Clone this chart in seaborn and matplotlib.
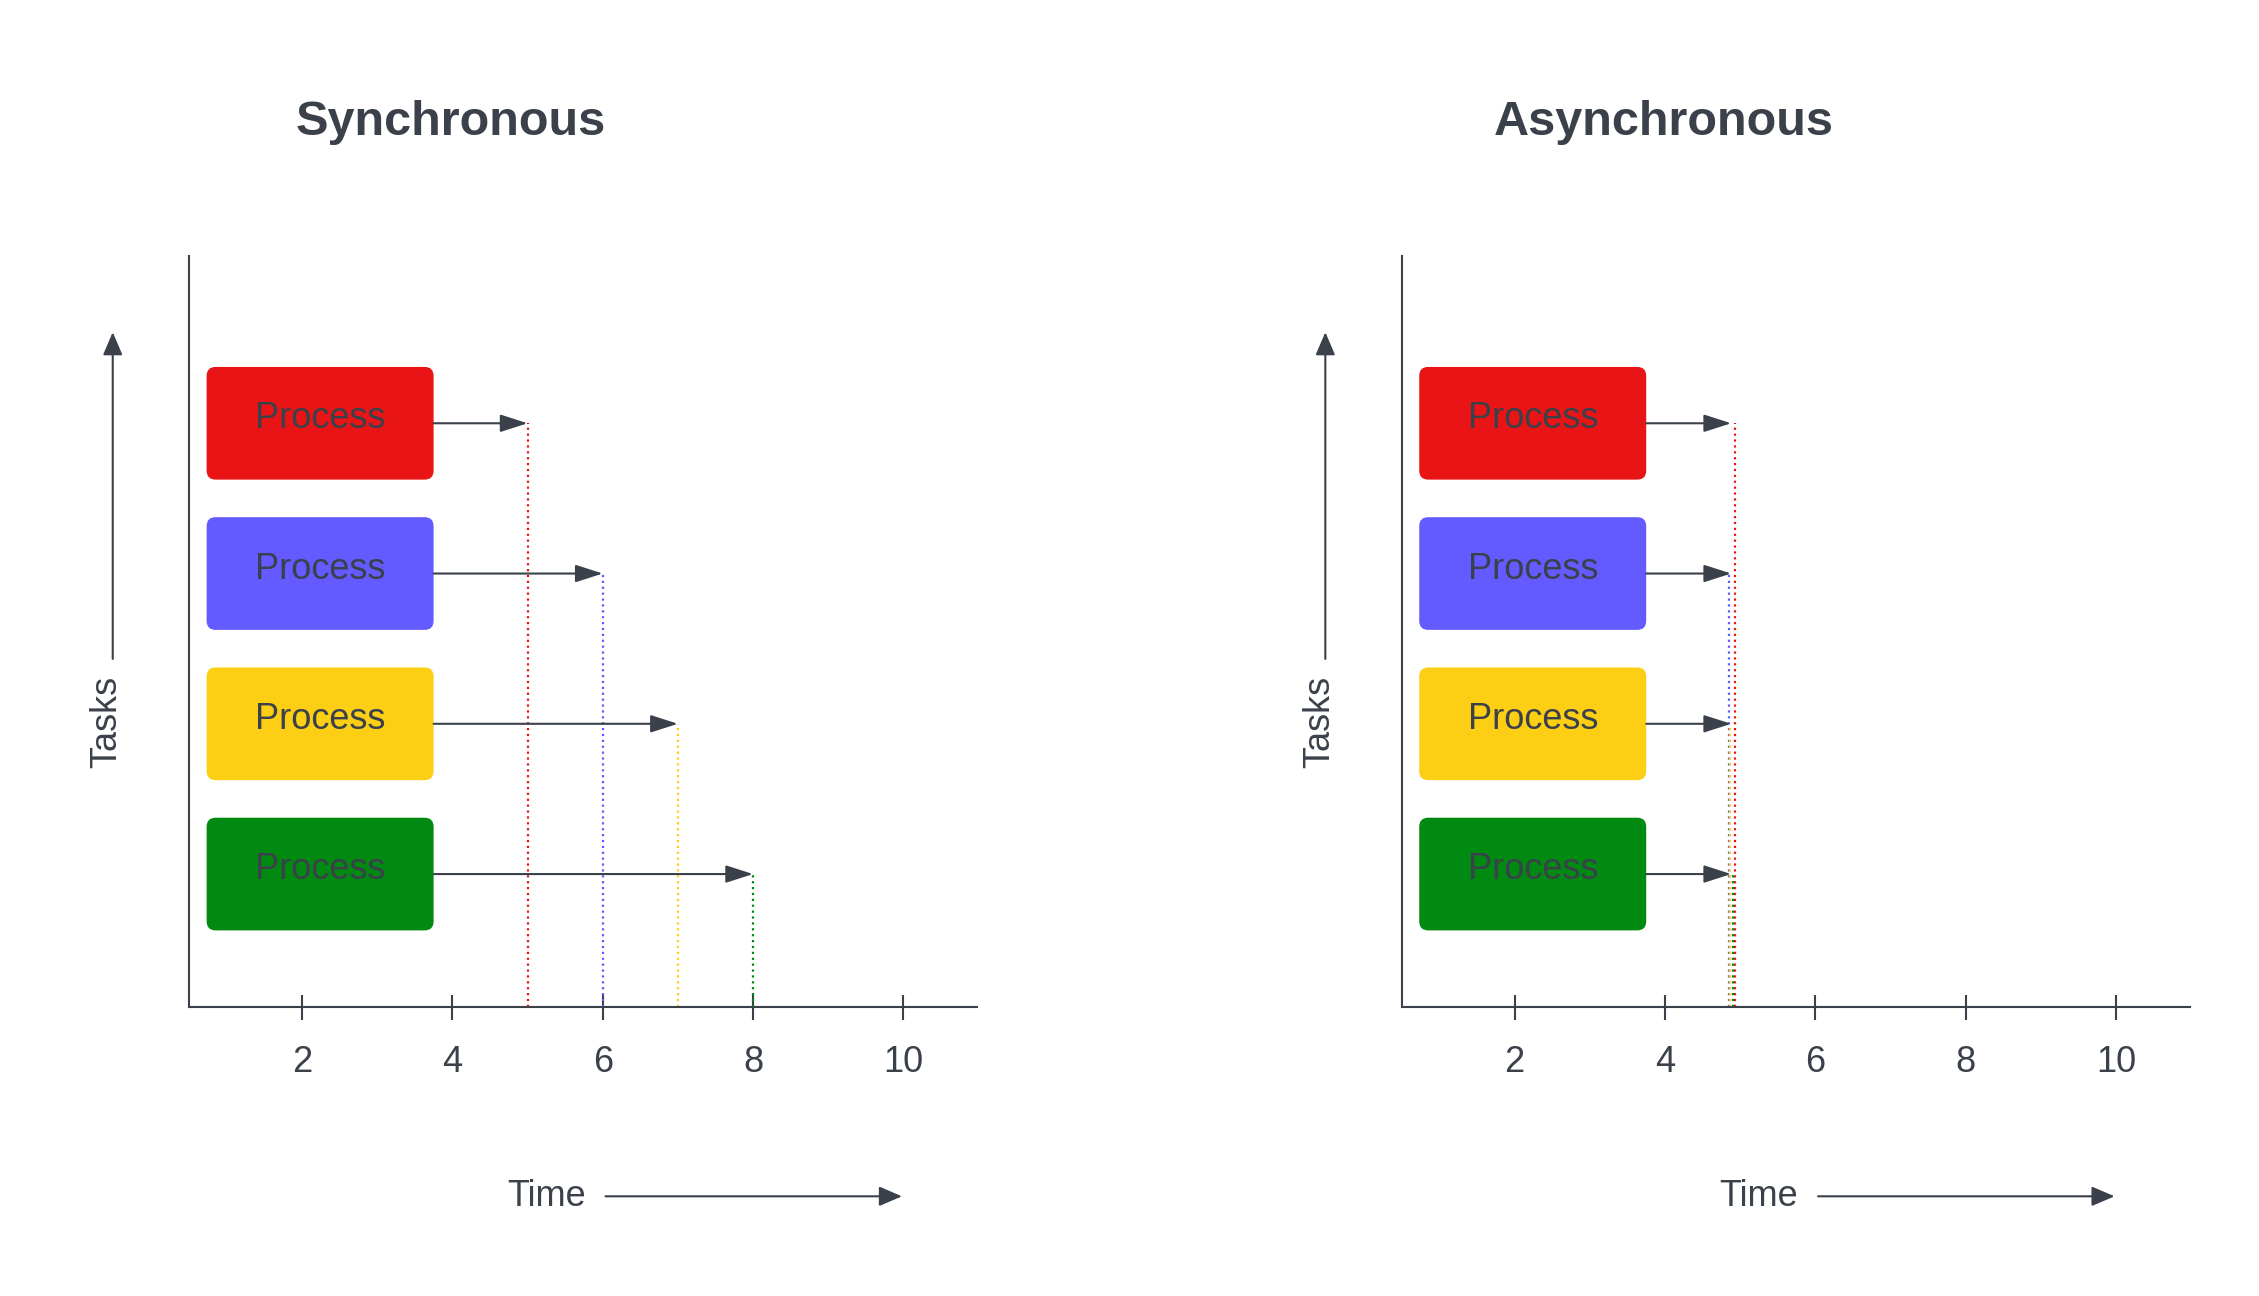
import matplotlib
matplotlib.use("Agg")
import matplotlib.pyplot as plt
import seaborn as sns
from matplotlib.patches import FancyBboxPatch

sns.set_theme(style="white")
plt.rcParams['font.family'] = ['Liberation Sans', 'DejaVu Sans']

titles = ["Synchronous", "Asynchronous"]
row_y = [3.885, 2.885, 1.885, 0.885]
colors = ["#e81416", "#635bff", "#fccf14", "#008a11"]
box_label = "Process"
box_x0, box_x1 = 0.73, 3.75
sync_end = [5.0, 6.0, 7.0, 8.0]
async_end = [4.88, 4.88, 4.88, 4.88]
async_drop = [4.93, 4.85, 4.87, 4.90]
sync_drop = [5.0, 6.0, 7.0, 8.0]
xticks = [2, 4, 6, 8, 10]
INK = "#3a414a"

fig = plt.figure(figsize=(22.59, 12.96), dpi=100)
W, H = 1563, 897
panels = [(131, sync_end, sync_drop), (970, async_end, async_drop)]
for i, (x0px, ends, drops) in enumerate(panels):
    ax = fig.add_axes([x0px / W, (H - 697) / H, 545 / W, 520 / H])
    ax.set_xlim(0.5, 10.98)
    ax.set_ylim(0, 5)
    for s in ["top", "right"]:
        ax.spines[s].set_visible(False)
    for s in ["left", "bottom"]:
        ax.spines[s].set_color(INK)
        ax.spines[s].set_linewidth(1.5)
    ax.set_xticks(xticks)
    ax.set_yticks([])
    ax.tick_params(axis="x", direction="inout", length=18, width=1.5, color=INK,
                   labelsize=26, labelcolor=INK, pad=18, bottom=True)
    for y, c, e, d in zip(row_y, colors, ends, drops):
        ax.add_patch(FancyBboxPatch((box_x0, y - 0.375), box_x1 - box_x0, 0.75,
                                    boxstyle="round,pad=0,rounding_size=0.12",
                                    mutation_aspect=0.5, fc=c, ec="none"))
        ax.text((box_x0 + box_x1) / 2, y + 0.03, box_label, ha="center", va="center",
                fontsize=26, color=INK)
        ax.annotate("", xy=(e, y), xytext=(box_x1, y),
                    arrowprops=dict(arrowstyle="-|>,head_length=1.4,head_width=0.45",
                                    color=INK, lw=1.5, shrinkA=0, shrinkB=0))
        ax.plot([d, d], [0, y], ls=":", color=c, lw=1.6)
    cx = x0px - 131
    fig.text((312 + cx) / W, 1 - 85 / H, titles[i], ha="center", va="center",
             fontsize=35, fontweight="bold", color=INK)
    fig.text((74 + cx) / W, 1 - 500 / H, "Tasks", rotation=90, ha="center", va="center",
             fontsize=26, color=INK)
    fig.add_artist(matplotlib.patches.FancyArrowPatch(
        ((78 + cx) / W, 1 - 458 / H), ((78 + cx) / W, 1 - 228 / H), transform=fig.transFigure,
        arrowstyle="-|>,head_length=14,head_width=6", color=INK, lw=1.5))
    fig.text((378 + cx) / W, 1 - 828 / H, "Time", ha="center", va="center",
             fontsize=26, color=INK)
    fig.add_artist(matplotlib.patches.FancyArrowPatch(
        ((417 + cx) / W, 1 - 828 / H), ((626 + cx) / W, 1 - 828 / H), transform=fig.transFigure,
        arrowstyle="-|>,head_length=14,head_width=6", color=INK, lw=1.5))

fig.savefig("out.png", dpi=100, facecolor="white")
